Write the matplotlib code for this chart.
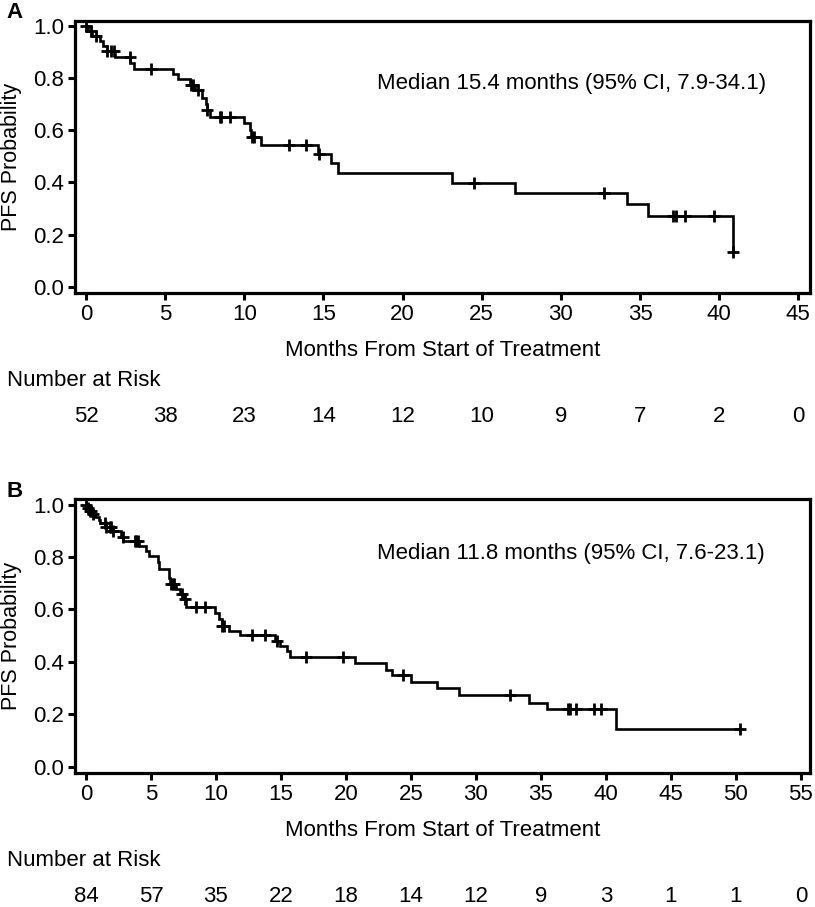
import matplotlib
matplotlib.use("Agg")
import matplotlib.pyplot as plt
import matplotlib.transforms as mtransforms
import numpy as np

plt.rcParams['font.family'] = ['Liberation Sans', 'DejaVu Sans']

# ---------------- Panel A data ----------------
a_event_t = [0.1, 0.35, 0.9, 1.1, 1.3, 1.85, 2.8, 3.03, 5.5, 5.8, 6.6, 6.9, 7.32,
             7.55, 7.62, 7.85, 9.96, 10.35, 10.45, 11.08, 14.64, 15.5, 15.9, 23.1,
             27.1, 34.2, 35.5, 40.85]
a_event_s = [0.981, 0.962, 0.942, 0.923, 0.904, 0.880, 0.858, 0.836, 0.816, 0.795,
             0.773, 0.754, 0.725, 0.700, 0.678, 0.652, 0.627, 0.601, 0.576, 0.544,
             0.510, 0.474, 0.436, 0.398, 0.360, 0.316, 0.270, 0.133]
a_cens_t = [0.0, 0.3, 0.65, 1.35, 1.6, 1.75, 2.75, 4.08, 6.62, 6.78, 7.05, 7.65,
            8.48, 8.55, 9.11, 10.5, 10.6, 12.8, 13.9, 14.75, 24.5, 32.7, 37.1,
            37.3, 37.85, 39.7, 40.9]
a_ticks = [0, 5, 10, 15, 20, 25, 30, 35, 40, 45]
a_risk = [52, 38, 23, 14, 12, 10, 9, 7, 2, 0]
a_median = "Median 15.4 months (95% CI, 7.9-34.1)"

# ---------------- Panel B data ----------------
b_event_t = [0.1, 0.25, 0.45, 0.7, 1.0, 1.1, 1.55, 2.05, 2.7, 2.85, 4.1, 4.6, 4.85,
             5.55, 5.65, 6.4, 6.5, 6.96, 7.22, 7.53, 7.68, 9.92, 10.26, 10.44,
             11.03, 11.85, 14.55, 14.94, 15.5, 15.7, 20.66, 23.05, 23.56, 25.0,
             27.04, 28.67, 34.07, 35.5, 40.8]
b_event_s = [0.988, 0.976, 0.964, 0.952, 0.940, 0.928, 0.916, 0.900, 0.876, 0.860,
             0.843, 0.824, 0.805, 0.780, 0.754, 0.720, 0.696, 0.677, 0.658, 0.639,
             0.610, 0.588, 0.565, 0.536, 0.517, 0.502, 0.479, 0.460, 0.440, 0.418,
             0.396, 0.370, 0.351, 0.323, 0.300, 0.272, 0.245, 0.221, 0.145]
b_cens_t = [0.0, 0.14, 0.27, 0.4, 0.53, 1.43, 1.56, 1.81, 1.94, 2.07, 2.84, 3.74,
            3.87, 4.0, 6.55, 6.7, 6.8, 7.4, 7.6, 8.45, 9.15, 10.5, 10.6, 12.75,
            13.78, 14.7, 16.95, 19.78, 24.4, 32.65, 37.08, 37.2, 37.7, 39.1, 39.6,
            50.3]
b_ticks = [0, 5, 10, 15, 20, 25, 30, 35, 40, 45, 50, 55]
b_risk = [84, 57, 35, 22, 18, 14, 12, 9, 3, 1, 1, 0]
b_median = "Median 11.8 months (95% CI, 7.6-23.1)"

y_ticks = [0.0, 0.2, 0.4, 0.6, 0.8, 1.0]

W, H = 815, 907
fig = plt.figure(figsize=(W / 100, H / 100), dpi=100)

FS = 16


def surv_at(t, et, es):
    s = 1.0
    for ti, si in zip(et, es):
        if ti <= t + 1e-9:
            s = si
    return s


def panel(top_px, bottom_px, xlim, et, es, ct, ticks, risk, median, label, med_y):
    h = bottom_px - top_px
    ax = fig.add_axes([75 / W, 1 - bottom_px / H, 735 / W, h / H])
    tt = [0.0] + list(et)
    ss = [1.0] + list(es)
    last = max(ct)
    if last > tt[-1]:
        tt.append(last)
        ss.append(ss[-1])
    ax.step(tt, ss, where='post', color='black', lw=1.9, solid_joinstyle='miter')
    cy = [surv_at(c, et, es) for c in ct]
    ax.plot(ct, cy, linestyle='none', marker='+', ms=8, mew=2.0, color='black')
    ax.set_xlim(*xlim)
    ax.set_ylim(-0.025, 1.02)
    ax.set_xticks(ticks)
    ax.set_yticks(y_ticks)
    ax.set_yticklabels([f"{v:.1f}" for v in y_ticks])
    for sp in ax.spines.values():
        sp.set_linewidth(2.3)
    ax.tick_params(direction='out', length=5, width=2.2, labelsize=FS, pad=3)
    ax.set_xlabel("Months From Start of Treatment", fontsize=FS, va='center')
    ax.xaxis.set_label_coords(0.5, -57 / h)
    ax.set_ylabel("PFS Probability", fontsize=FS - 0.5, va='center')
    ax.yaxis.set_label_coords(-(75 - 12) / 735, 0.5)
    ax.text(0.411, med_y, median, transform=ax.transAxes, fontsize=FS,
            ha='left', va='center')
    fig.text(6 / W, 1 - (top_px - 8) / H, label, fontsize=16, fontweight='bold',
             ha='left', va='center')
    fig.text(7 / W, 1 - (bottom_px + 87) / H, "Number at Risk", fontsize=FS,
             ha='left', va='center')
    trans = mtransforms.blended_transform_factory(ax.transData, fig.transFigure)
    for x, r in zip(ticks, risk):
        fig.text(x, 1 - (bottom_px + 123) / H, str(r), transform=trans, fontsize=FS,
                 ha='center', va='center')
    return ax


panel(20.7, 293.3, (-0.695, 45.74), a_event_t, a_event_s, a_cens_t, a_ticks,
      a_risk, a_median, "A", 0.768)
panel(499.3, 773.3, (-0.846, 55.7), b_event_t, b_event_s, b_cens_t, b_ticks,
      b_risk, b_median, "B", 0.804)

fig.savefig("out.png", dpi=100)
